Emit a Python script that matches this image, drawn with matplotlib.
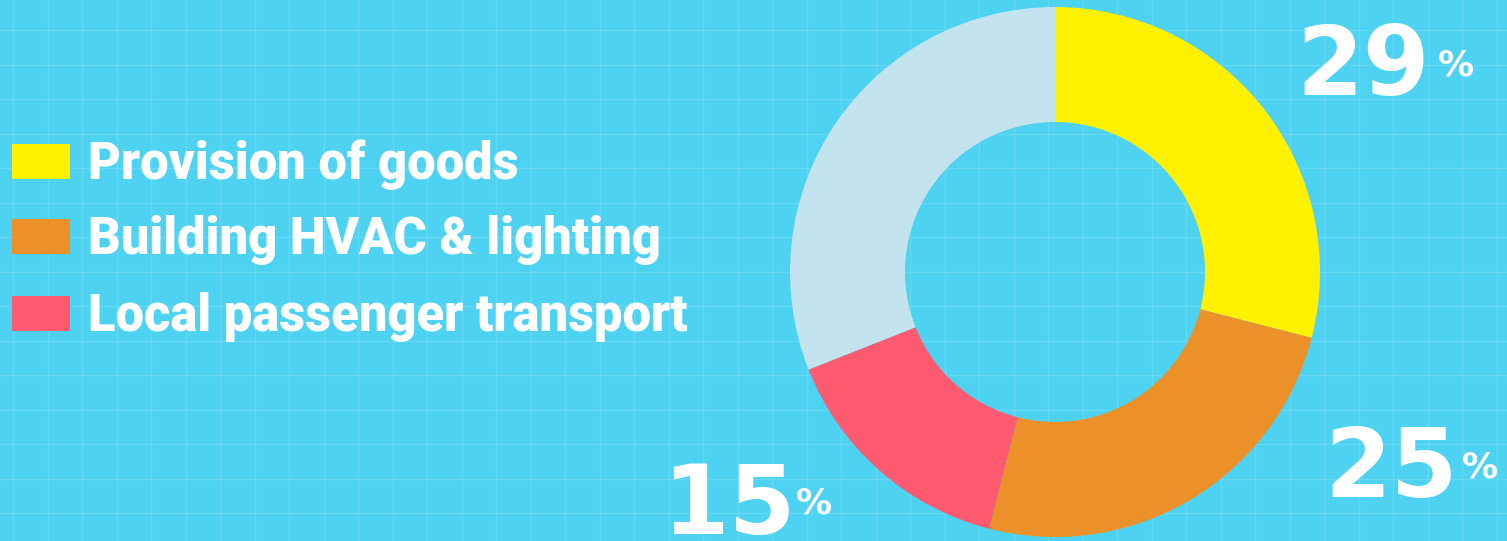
import numpy as np
import matplotlib.pyplot as plt

# data
labels = ['Provision of goods', 'Building HVAC & lighting', 'Local passenger transport', 'Other']
shares = [29, 25, 15, 31]
colors = ['#FFF100', '#EC9129', '#FF5A70', '#C3E3EE']
shown = ['29', '25', '15']

W, H = 1507, 541
bg = '#4DD2F1'

fig = plt.figure(figsize=(W / 100, H / 100), dpi=100, facecolor=bg)
ax = fig.add_axes([0, 0, 1, 1])
ax.set_facecolor(bg)

# faint blueprint grid
for gx in np.arange(13, W, 34.5):
    ax.axvline(gx, color='white', alpha=0.13, lw=1, zorder=0)
for gy in np.arange(30, H, 34.5):
    ax.axhline(H - gy, color='white', alpha=0.13, lw=1, zorder=0)

# donut
cx, cy, R = 1055, H - 272, 265
ax.pie(shares, colors=colors, startangle=90, counterclock=False,
       center=(cx, cy), radius=R, frame=True,
       wedgeprops=dict(width=R - 150, linewidth=0))
ax.set_xlim(0, W)
ax.set_ylim(0, H)
ax.set_aspect('equal')
ax.axis('off')

# legend
leg_font = ['Roboto', 'DejaVu Sans']
swatch_tops = [144, 219, 296]
for lab, col, top in zip(labels[:3], colors[:3], swatch_tops):
    ax.add_patch(plt.Rectangle((12, H - top - 35), 58, 35, color=col, lw=0))
    ax.text(88, H - top - 35, lab, fontsize=36.5, fontweight='black', family=leg_font,
            color='white', ha='left', va='baseline')

# percentage labels
big_font = ['DejaVu Sans']
pos = [(1296, 95, 1438), (1324, 497, 1462), (662, 534, 796)]
for s, (x, base, px) in zip(shown, pos):
    ax.text(x, H - base, s, fontsize=69, fontweight='bold', family=big_font,
            color='white', ha='left', va='baseline')
    ax.text(px, H - base + 20, '%', fontsize=26, fontweight='bold', family=big_font,
            color='white', ha='left', va='baseline')

fig.savefig('out.png', dpi=100, facecolor=bg)
